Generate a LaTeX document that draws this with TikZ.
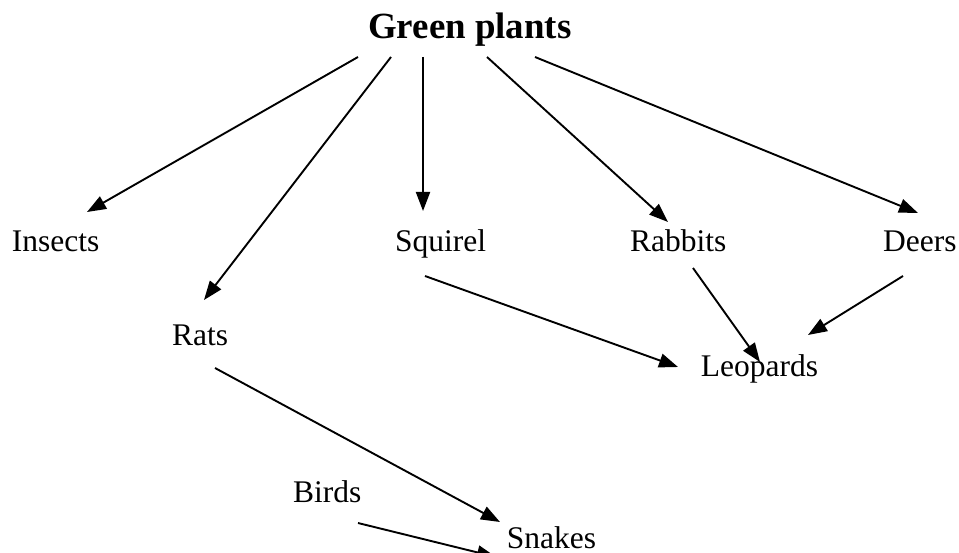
\documentclass[tikz,border=0pt]{standalone}
\usepackage{fontspec}
\setmainfont{Liberation Serif}
\usetikzlibrary{arrows.meta}
\begin{document}
\begin{tikzpicture}[x=1pt,y=-1pt,
  lbl/.style={anchor=base west,inner sep=0pt,font=\fontsize{31.5}{36}\selectfont},
  ttl/.style={anchor=base west,inner sep=0pt,font=\fontsize{36.9}{42}\selectfont\bfseries},
  arr/.style={line width=1.9pt,-{Triangle[length=19pt,width=14pt]}}]
\useasboundingbox (0,0) rectangle (959,553);
\clip (0,0) rectangle (959,553);
% nodes
\node[ttl] (gp) at (368,39) {Green plants};
\node[lbl] (ins) at (11.7,252) {Insects};
\node[lbl] (squ) at (395,252) {Squirel};
\node[lbl] (rab) at (630,252) {Rabbits};
\node[lbl] (dee) at (883,252) {Deers};
\node[lbl] (rat) at (172,346) {Rats};
\node[lbl] (leo) at (700.7,377) {Leopards};
\node[lbl] (bir) at (293,502) {Birds};
\node[lbl] (sna) at (506.7,548) {Snakes};
% connector ends
\coordinate (g1) at (358,57);
\coordinate (g2) at (391,57);
\coordinate (g3) at (423,57);
\coordinate (g4) at (487,57);
\coordinate (g5) at (535,57);
\coordinate (ins-in) at (87,212);
\coordinate (rat-in) at (204,300);
\coordinate (squ-in) at (423,211);
\coordinate (rab-in) at (668,222);
\coordinate (dee-in) at (918,213);
\coordinate (squ-out) at (425,276);
\coordinate (rab-out) at (693,268);
\coordinate (dee-out) at (903,276);
\coordinate (rat-out) at (215,368);
\coordinate (bir-out) at (358,523);
\coordinate (leo-in1) at (678,367);
\coordinate (leo-in2) at (760,362);
\coordinate (leo-in3) at (808,335);
\coordinate (sna-in1) at (500,522);
\coordinate (sna-in2) at (496,557);
% connectors
\draw[arr] (g1) -- (ins-in);
\draw[arr] (g2) -- (rat-in);
\draw[arr] (g3) -- (squ-in);
\draw[arr] (g4) -- (rab-in);
\draw[arr] (g5) -- (dee-in);
\draw[arr] (squ-out) -- (leo-in1);
\draw[arr] (rab-out) -- (leo-in2);
\draw[arr] (dee-out) -- (leo-in3);
\draw[arr] (rat-out) -- (sna-in1);
\draw[arr] (bir-out) -- (sna-in2);
\end{tikzpicture}
\end{document}
